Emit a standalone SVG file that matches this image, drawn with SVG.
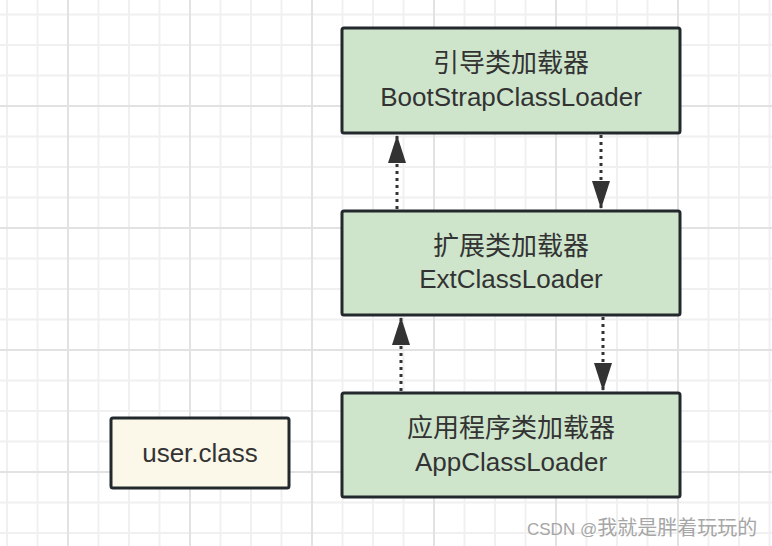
<svg xmlns="http://www.w3.org/2000/svg" width="772" height="546" viewBox="0 0 772 546">
  <style>
    .node rect { stroke: #23282d; stroke-width: 3; }
    .green { fill: #cee5cc; }
    .cream { fill: #fbf8ea; }
    .zh { font-family: "Noto Sans CJK SC", "Liberation Sans", sans-serif; font-size: 26px; fill: #333333; text-anchor: middle; }
    .en { font-family: "Liberation Sans", Arial, sans-serif; font-size: 26px; fill: #333333; text-anchor: middle; }
    .conn line { stroke: #333333; stroke-width: 3; stroke-dasharray: 3 4; fill: none; }
    .minor { stroke: #f0f0f0; stroke-width: 2; }
    .major { stroke: #e2e2e2; stroke-width: 2; }
  </style>
  <defs>
    <pattern id="grid" patternUnits="userSpaceOnUse" x="67" y="105" width="122" height="122">
      <line class="minor" x1="31.5" y1="0" x2="31.5" y2="122"/>
      <line class="minor" x1="62" y1="0" x2="62" y2="122"/>
      <line class="minor" x1="92.5" y1="0" x2="92.5" y2="122"/>
      <line class="minor" x1="0" y1="31.5" x2="122" y2="31.5"/>
      <line class="minor" x1="0" y1="62" x2="122" y2="62"/>
      <line class="minor" x1="0" y1="92.5" x2="122" y2="92.5"/>
      <line class="major" x1="1" y1="0" x2="1" y2="122"/>
      <line class="major" x1="0" y1="1" x2="122" y2="1"/>
    </pattern>
    <marker id="arrow" viewBox="0 0 28 18" markerUnits="userSpaceOnUse" markerWidth="28" markerHeight="18" refX="28" refY="9" orient="auto">
      <path d="M0,0 L28,9 L0,18 Z" fill="#333333"/>
    </marker>
  </defs>
  <rect width="772" height="546" fill="#ffffff"/>
  <rect width="772" height="546" fill="url(#grid)"/>

  <g id="connectors" class="conn">
    <line x1="397" y1="209" x2="397" y2="135" marker-end="url(#arrow)"/>
    <line x1="601" y1="135" x2="601" y2="209" marker-end="url(#arrow)"/>
    <line x1="401" y1="391" x2="401" y2="317" marker-end="url(#arrow)"/>
    <line x1="603" y1="317" x2="603" y2="391" marker-end="url(#arrow)"/>
  </g>

  <g id="bootstrap" class="node">
    <rect class="green" x="342" y="28" width="338" height="105" rx="2"/>
    <text class="zh" x="511" y="72">引导类加载器</text>
    <text class="en" x="511" y="106">BootStrapClassLoader</text>
  </g>
  <g id="ext" class="node">
    <rect class="green" x="342" y="211" width="338" height="104" rx="2"/>
    <text class="zh" x="511" y="255">扩展类加载器</text>
    <text class="en" x="511" y="288">ExtClassLoader</text>
  </g>
  <g id="app" class="node">
    <rect class="green" x="342" y="393" width="338" height="104" rx="2"/>
    <text class="zh" x="511" y="437">应用程序类加载器</text>
    <text class="en" x="511" y="471">AppClassLoader</text>
  </g>
  <g id="userclass" class="node">
    <rect class="cream" x="111" y="418" width="178" height="70" rx="2"/>
    <text class="en" x="200" y="462">user.class</text>
  </g>

  <text x="527" y="535" fill="#a6a6a6" font-family="Liberation Sans, sans-serif" font-size="17">CSDN @<tspan font-family="Noto Sans CJK SC, sans-serif" font-size="20">我就是胖着玩玩的</tspan></text>
</svg>
